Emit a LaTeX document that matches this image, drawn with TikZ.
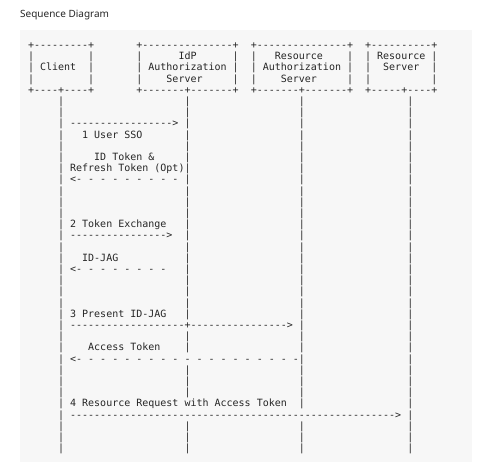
\documentclass[tikz,border=0pt]{standalone}
\usepackage{fontspec}
\setmainfont{Noto Sans}
\setmonofont{DejaVu Sans Mono}[Ligatures=TeXOff]
\ExplSyntaxOn
\NewDocumentCommand\dsh{m}{\prg_replicate:nn{#1}{-}}
\NewDocumentCommand\spc{m}{\prg_replicate:nn{#1}{~}}
\NewDocumentCommand\dsp{m}{\prg_replicate:nn{#1}{~-}}
\ExplSyntaxOff
\newcommand\lfA{\null\spc{5}|}
\newcommand\tailA{\spc{18}|\spc{17}|}
\definecolor{bgc}{HTML}{F7F7F7}
\definecolor{txt}{HTML}{262626}
\begin{document}
\begin{tikzpicture}[x=1pt,y=-1pt,
  asc/.style={font=\ttfamily\fontsize{10}{12}\selectfont, anchor=base west, inner sep=0pt, outer sep=0pt, text=txt},
  ttl/.style={font=\fontsize{10}{12}\selectfont, anchor=base west, inner sep=0pt, text=txt}]
\useasboundingbox (0,0) rectangle (489,471);
\fill[bgc] (20,30) rectangle (472,462);
\node[ttl] (title) at (20,17.7) {Sequence Diagram};
\newcommand\rowat[1]{(28,{48.5+11.2*#1})}
\node[asc] (r0) at \rowat{0} {+\dsh{9}+\spc{7}+\dsh{15}+\spc{2}+\dsh{15}+\spc{2}+\dsh{10}+};
\node[asc] (r1) at \rowat{1} {|\spc{9}|\spc{7}|\spc{6}IdP\spc{6}|\spc{2}|\spc{3}Resource\spc{4}|\spc{2}|\spc{1}Resource\spc{1}|};
\node[asc] (r2) at \rowat{2} {|\spc{1}Client\spc{2}|\spc{7}|\spc{1}Authorization\spc{1}|\spc{2}|\spc{1}Authorization\spc{1}|\spc{2}|\spc{2}Server\spc{2}|};
\node[asc] (r3) at \rowat{3} {|\spc{9}|\spc{7}|\spc{4}Server\spc{5}|\spc{2}|\spc{4}Server\spc{5}|\spc{2}|\spc{10}|};
\node[asc] (r4) at \rowat{4} {+\dsh{4}+\dsh{4}+\spc{7}+\dsh{7}+\dsh{7}+\spc{2}+\dsh{7}+\dsh{7}+\spc{2}+\dsh{5}+\dsh{4}+};
\foreach \r in {5,6,9,13,14,15,18,21,22,23,26,29,30,31,34,35,36}
  \node[asc] (r\r) at (28,{48.5+11.2*\r}) {\lfA\spc{20}|\tailA};
\node[asc] (r7) at \rowat{7} {\lfA\spc{1}\dsh{17}>\spc{1}|\tailA};
\node[asc] (r8) at \rowat{8} {\lfA\spc{3}1 User SSO\spc{7}|\tailA};
\node[asc] (r10) at \rowat{10} {\lfA\spc{5}ID Token \&\spc{5}|\tailA};
\node[asc] (r11) at \rowat{11} {\lfA\spc{1}Refresh Token (Opt)|\tailA};
\node[asc] (r12) at \rowat{12} {\lfA\spc{1}<-\dsp{8}\spc{1}|\tailA};
\node[asc] (r16) at \rowat{16} {\lfA\spc{1}2 Token Exchange\spc{3}|\tailA};
\node[asc] (r17) at \rowat{17} {\lfA\spc{1}\dsh{16}>\spc{2}|\tailA};
\node[asc] (r19) at \rowat{19} {\lfA\spc{3}ID-JAG\spc{11}|\tailA};
\node[asc] (r20) at \rowat{20} {\lfA\spc{1}<-\dsp{7}\spc{3}|\tailA};
\node[asc] (r24) at \rowat{24} {\lfA\spc{1}3 Present ID-JAG\spc{3}|\tailA};
\node[asc] (r25) at \rowat{25} {\lfA\spc{1}\dsh{19}+\dsh{16}>\spc{1}|\spc{17}|};
\node[asc] (r27) at \rowat{27} {\lfA\spc{4}Access Token\spc{4}|\tailA};
\node[asc] (r28) at \rowat{28} {\lfA\spc{1}<-\dsp{18}|\spc{17}|};
\node[asc] (r32) at \rowat{32} {\lfA\spc{1}4 Resource Request with Access Token\spc{2}|\spc{17}|};
\node[asc] (r33) at \rowat{33} {\lfA\spc{1}\dsh{54}>\spc{1}|};
\end{tikzpicture}
\end{document}
